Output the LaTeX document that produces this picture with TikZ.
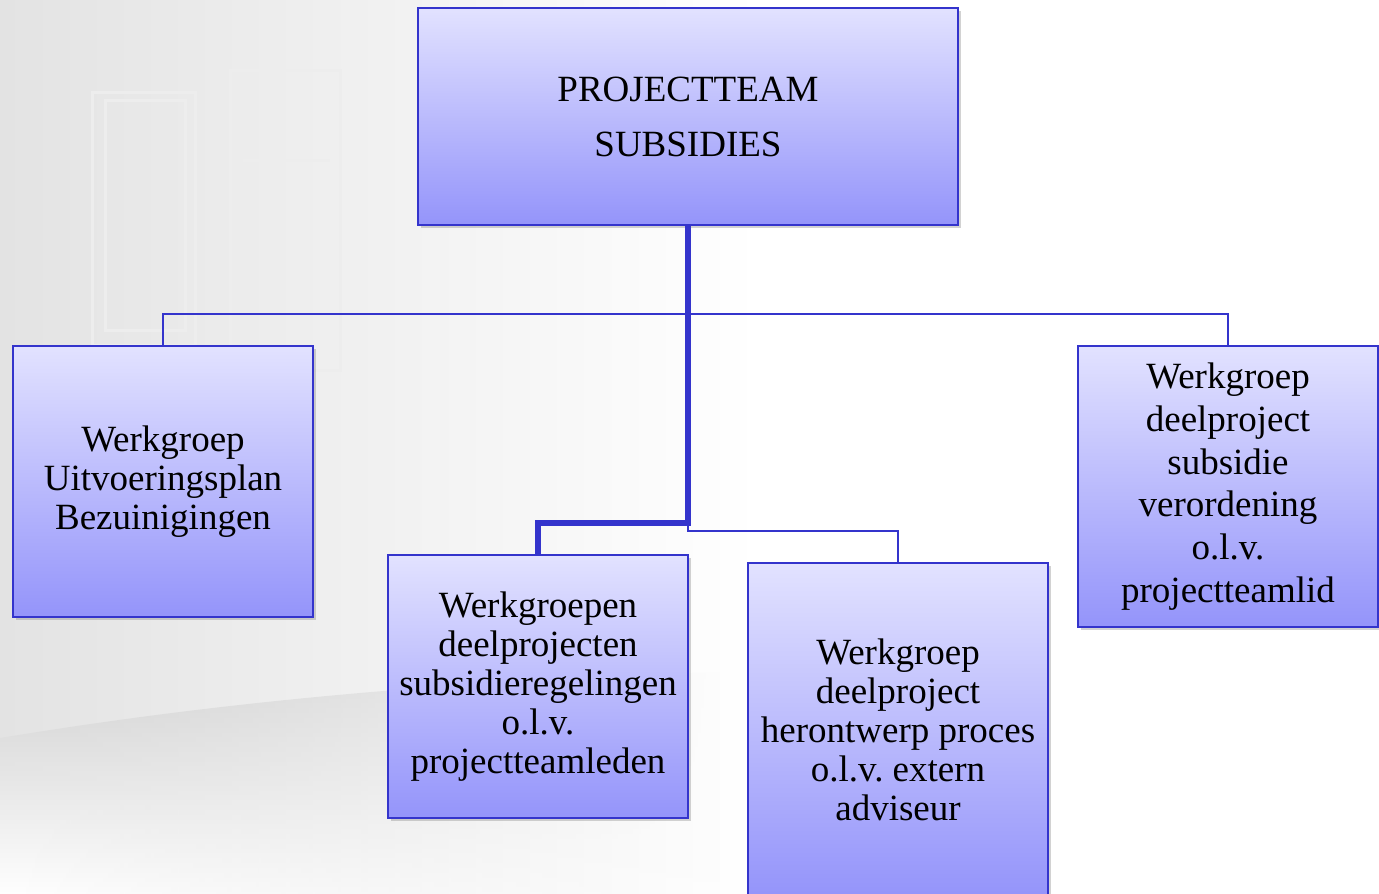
\documentclass[tikz,border=0pt]{standalone}
\usepackage{fontspec}
\setmainfont{Liberation Serif}
\frenchspacing
\usetikzlibrary{shadows,fadings}
\definecolor{edgeblue}{RGB}{52,52,204}
\definecolor{filltop}{RGB}{226,226,255}
\definecolor{fillbot}{RGB}{148,148,250}
\tikzset{
  orgbox/.style={draw=edgeblue, line width=2.2pt, top color=filltop, bottom color=fillbot,
    align=center, inner sep=4pt, text=black,
    drop shadow={opacity=0.35, shadow xshift=2.5pt, shadow yshift=-3pt},
    execute at begin node={\rule{0pt}{41pt}},
    font=\fontsize{37}{39}\selectfont},
  trunkline/.style={draw=edgeblue, line width=5.5pt},
  thinline/.style={draw=edgeblue, line width=1.8pt},
  bgline/.style={draw=black!7, line width=3pt}
}
\begin{document}
\begin{tikzpicture}[x=1pt,y=-1pt]
\useasboundingbox (0,0) rectangle (1379,894);
% background
\fill[white] (0,0) rectangle (1379,894);
\fill[left color=black!11, right color=white] (0,0) rectangle (760,894);
\shade[top color=black!18, bottom color=white, path fading=east]
  (0,738) .. controls (200,705) and (420,682) .. (720,672) -- (720,894) -- (0,894) -- cycle;
\draw[bgline] (92,92) rectangle (195,345);
\draw[bgline] (230,70) rectangle (340,370);
\draw[bgline] (243,160) -- (330,160);
\draw[bgline] (105,100) rectangle (185,330);
% nodes
\node[orgbox, minimum width=540pt, minimum height=217pt, font=\fontsize{37}{55}\selectfont]
  (top) at (688,116.5) {PROJECTTEAM\\SUBSIDIES};
\node[orgbox, minimum width=300pt, minimum height=271pt]
  (left) at (163,481.5) {Werkgroep\\Uitvoeringsplan\\Bezuinigingen};
\node[orgbox, minimum width=300pt, minimum height=263pt]
  (mid1) at (538,686.5) {Werkgroepen\\deelprojecten\\subsidieregelingen\\o.l.v.\\projectteamleden};
\node[orgbox, minimum width=300pt, minimum height=334pt]
  (mid2) at (898,730) {Werkgroep\\deelproject\\herontwerp proces\\o.l.v. extern\\adviseur};
\node[orgbox, minimum width=300pt, minimum height=281pt, font=\fontsize{37}{42.8}\selectfont]
  (right) at (1228,486.5) {Werkgroep\\deelproject\\subsidie\\verordening\\o.l.v.\\projectteamlid};
% connectors
\coordinate (bus) at (688,314);
\coordinate (j1) at (688,523);
\coordinate (j2) at (688,531);
\draw[thinline] (left.north) |- (bus) -| (right.north);
\draw[thinline] (j1) -- (j2) -| (mid2.north);
\draw[trunkline] (top.south) -- (j1) -| (mid1.north);
\end{tikzpicture}
\end{document}
